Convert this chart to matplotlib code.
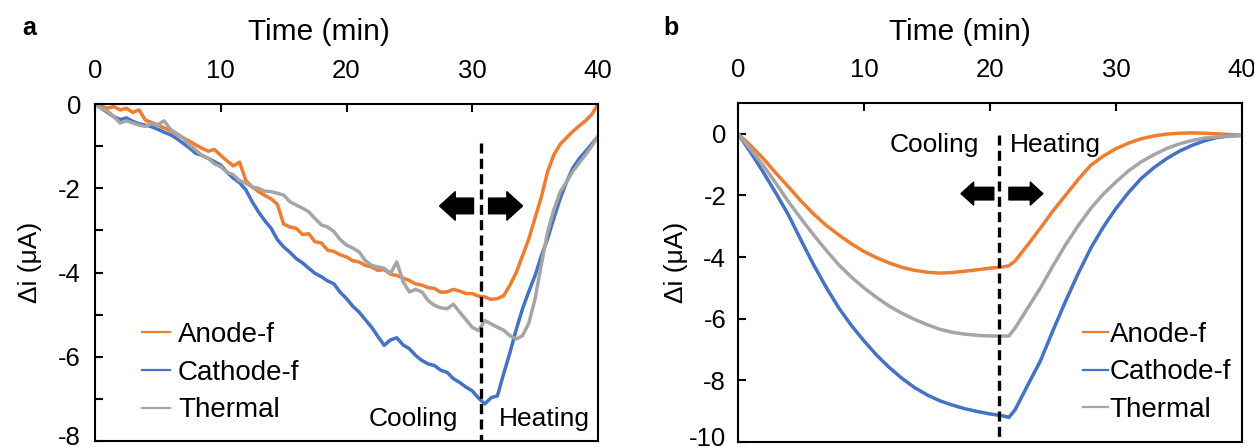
import matplotlib
matplotlib.use("Agg")
import matplotlib.pyplot as plt
from matplotlib.patches import FancyArrowPatch
from matplotlib.lines import Line2D
from matplotlib.transforms import ScaledTranslation

plt.rcParams['font.family'] = ['Liberation Sans', 'DejaVu Sans']

# ---------------- data ----------------
series_names = ["Anode-f", "Cathode-f", "Thermal"]
series_colors = ["#ED7D31", "#4472C4", "#A5A5A5"]

# Panel a (measured, noisy), 0.5-min resolution
time_a = [i * 0.5 for i in range(81)]
anode_a = [0, -0.05, -0.1, -0.06, -0.14, -0.1, -0.2, -0.14, -0.38, -0.44,
           -0.5, -0.57, -0.63, -0.72, -0.8, -0.88, -0.97, -1.05, -1.12, -1.08,
           -1.22, -1.35, -1.47, -1.38, -1.82, -1.97, -2.08, -2.17, -2.25, -2.38,
           -2.85, -2.92, -2.95, -3.1, -3.08, -3.27, -3.3, -3.47, -3.5, -3.58,
           -3.63, -3.72, -3.75, -3.83, -3.87, -3.95, -3.93, -4.04, -4.07, -4.13,
           -4.19, -4.27, -4.3, -4.36, -4.38, -4.47, -4.46, -4.4, -4.44, -4.5,
           -4.5, -4.56, -4.58, -4.64, -4.62, -4.55, -4.3, -4.0, -3.6, -3.2,
           -2.7, -2.2, -1.6, -1.2, -0.95, -0.8, -0.65, -0.52, -0.4, -0.25, 0.0]
cathode_a = [0, -0.1, -0.2, -0.3, -0.37, -0.33, -0.41, -0.47, -0.5, -0.54,
             -0.6, -0.67, -0.73, -0.82, -0.93, -1.04, -1.17, -1.22, -1.29, -1.37,
             -1.45, -1.62, -1.76, -1.87, -2.04, -2.32, -2.56, -2.77, -2.95, -3.22,
             -3.39, -3.52, -3.67, -3.77, -3.9, -4.02, -4.1, -4.2, -4.27, -4.47,
             -4.62, -4.8, -4.94, -5.12, -5.3, -5.52, -5.73, -5.6, -5.55, -5.72,
             -5.81, -5.97, -6.09, -6.17, -6.21, -6.32, -6.37, -6.52, -6.61, -6.72,
             -6.81, -6.98, -7.12, -6.97, -6.93, -6.4, -5.9, -5.35, -4.86, -4.45,
             -4.07, -3.6, -3.19, -2.7, -2.24, -1.85, -1.52, -1.3, -1.13, -0.95, -0.77]
thermal_a = [0, -0.1, -0.17, -0.3, -0.45, -0.4, -0.45, -0.5, -0.53, -0.47,
             -0.49, -0.4, -0.6, -0.7, -0.8, -0.97, -1.09, -1.22, -1.29, -1.42,
             -1.49, -1.62, -1.68, -1.82, -1.88, -1.97, -2.0, -2.07, -2.08, -2.12,
             -2.16, -2.32, -2.4, -2.47, -2.56, -2.72, -2.87, -2.92, -3.03, -3.22,
             -3.35, -3.42, -3.51, -3.72, -3.83, -3.87, -3.9, -4.02, -3.75, -4.22,
             -4.46, -4.4, -4.46, -4.67, -4.78, -4.84, -4.86, -4.75, -4.94, -5.12,
             -5.3, -5.38, -5.14, -5.22, -5.3, -5.37, -5.5, -5.58, -5.5, -5.2,
             -4.62, -3.8, -3.03, -2.5, -2.08, -1.85, -1.6, -1.4, -1.21, -1.0, -0.77]

# Panel b (model, smooth)
time_b = [0, 1, 2, 3, 4, 5, 6, 7, 8, 9, 10, 11, 12, 13, 14, 15, 16, 17, 18, 19,
          20, 21, 21.5, 22, 23, 24, 25, 26, 27, 28, 29, 30, 31, 32, 33, 34, 35,
          36, 37, 38, 39, 40]
anode_b = [0, -0.38, -0.8, -1.27, -1.72, -2.18, -2.6, -2.97, -3.28, -3.57,
           -3.82, -4.02, -4.19, -4.33, -4.43, -4.49, -4.52, -4.5, -4.46, -4.41,
           -4.36, -4.32, -4.28, -4.12, -3.6, -3.06, -2.5, -1.99, -1.48, -1.02,
           -0.72, -0.48, -0.3, -0.16, -0.07, -0.01, 0.02, 0.03, 0.02, 0.0,
           -0.02, -0.05]
cathode_b = [0, -0.6, -1.24, -1.92, -2.63, -3.45, -4.25, -4.98, -5.65, -6.22,
             -6.72, -7.18, -7.58, -7.93, -8.23, -8.47, -8.66, -8.8, -8.92, -9.01,
             -9.09, -9.15, -9.2, -8.95, -8.15, -7.37, -6.38, -5.43, -4.53, -3.71,
             -3.02, -2.42, -1.9, -1.45, -1.1, -0.81, -0.57, -0.38, -0.23, -0.12,
             -0.07, -0.05]
thermal_b = [0, -0.5, -1.02, -1.6, -2.2, -2.75, -3.28, -3.78, -4.25, -4.65,
             -5.0, -5.31, -5.59, -5.82, -6.02, -6.19, -6.34, -6.44, -6.5, -6.54,
             -6.56, -6.56, -6.56, -6.3, -5.65, -5.0, -4.28, -3.6, -2.98, -2.42,
             -1.95, -1.56, -1.2, -0.91, -0.68, -0.48, -0.33, -0.22, -0.14, -0.1,
             -0.07, -0.05]

switch_a = 30.7
switch_b = 20.7

xticks = [0, 10, 20, 30, 40]
yticks_a = [0, -1, -2, -3, -4, -5, -6, -7, -8]
yticklabels_a = ["0", "", "-2", "", "-4", "", "-6", "", "-8"]
yticks_b = [0, -2, -4, -6, -8, -10]
yticklabels_b = ["0", "-2", "-4", "-6", "-8", "-10"]

# ---------------- figure ----------------
fig = plt.figure(figsize=(12.54, 4.47), dpi=100)
ax_a = fig.add_axes([95 / 1254, 1 - 441 / 447, 503 / 1254, 337 / 447])
ax_b = fig.add_axes([738 / 1254, 1 - 442 / 447, 504 / 1254, 339 / 447])

TICK_FS = 18.5
LAB_FS = 19
XLAB_FS = 21.5
LEG_FS = 20


def style_axis(ax, yticks, yticklabels, ylim, ypad):
    ax.set_xlim(0, 40)
    ax.set_ylim(*ylim)
    ax.xaxis.tick_top()
    ax.xaxis.set_label_position('top')
    ax.set_xticks(xticks)
    ax.set_xticklabels([str(t) for t in xticks])
    ax.set_yticks(yticks)
    ax.set_yticklabels(yticklabels)
    ax.tick_params(axis='x', direction='in', length=6, width=1.5,
                   labelsize=TICK_FS, pad=15)
    ax.tick_params(axis='y', direction='in', length=6, width=1.5,
                   labelsize=TICK_FS, pad=ypad)
    for s in ax.spines.values():
        s.set_linewidth(1.5)
        s.set_color('black')
    ax.set_xlabel("Time (min)", fontsize=XLAB_FS)
    ax.set_ylabel("\u0394i (\u03bcA)", fontsize=LAB_FS)
    # the lowest label sits slightly higher, as in the original
    lbl = ax.get_yticklabels()[-1]
    lbl.set_transform(lbl.get_transform() + ScaledTranslation(0, 4 / 72, fig.dpi_scale_trans))


def arrow(ax, x0, x1, y, scale):
    p = FancyArrowPatch((x0, y), (x1, y),
                        arrowstyle="simple,head_length=0.55,head_width=1.0,tail_width=0.55",
                        mutation_scale=scale, color='black', shrinkA=0, shrinkB=0,
                        zorder=5)
    ax.add_patch(p)


# Panel a
for vals, name, col in zip([anode_a, cathode_a, thermal_a], series_names, series_colors):
    ax_a.plot(time_a, vals, color=col, lw=2.5, label=name, solid_joinstyle='round')
style_axis(ax_a, yticks_a, yticklabels_a, (-8, 0), 10)
ax_a.xaxis.set_label_coords(0.445, 1.189)
ax_a.yaxis.set_label_coords(-0.105, 0.53)
ax_a.plot([switch_a, switch_a], [-0.93, -8], color='black', lw=2.4,
          linestyle=(0, (3, 1.6)), zorder=4)
arrow(ax_a, 30.1, 27.4, -2.42, 20.5)
arrow(ax_a, 31.3, 34.0, -2.42, 20.5)
ax_a.text(25.3, -7.48, "Cooling", fontsize=LAB_FS, ha='center', va='center')
ax_a.text(35.7, -7.48, "Heating", fontsize=LAB_FS, ha='center', va='center')
handles_a = [Line2D([], [], color=c, lw=1.6) for c in series_colors]
ax_a.legend(handles_a, series_names, loc='upper left', bbox_to_anchor=(0.093, 0.353),
            frameon=False, fontsize=LEG_FS, handlelength=1.0, handletextpad=0.3,
            labelspacing=0.42, borderaxespad=0, borderpad=0)

# Panel b
for vals, name, col in zip([anode_b, cathode_b, thermal_b], series_names, series_colors):
    ax_b.plot(time_b, vals, color=col, lw=2.5, label=name)
style_axis(ax_b, yticks_b, yticklabels_b, (-10, 1), 8.5)
ax_b.xaxis.set_label_coords(0.44, 1.186)
ax_b.yaxis.set_label_coords(-0.099, 0.53)
ax_b.plot([switch_b, switch_b], [-0.05, -10], color='black', lw=2.4,
          linestyle=(0, (3, 1.6)), zorder=4)
arrow(ax_b, 20.3, 17.7, -1.94, 16.5)
arrow(ax_b, 21.5, 24.2, -1.94, 16.5)
ax_b.text(15.55, -0.35, "Cooling", fontsize=LAB_FS, ha='center', va='center',
          bbox=dict(facecolor='white', edgecolor='none', pad=0), zorder=3)
ax_b.text(25.2, -0.35, "Heating", fontsize=LAB_FS, ha='center', va='center')
handles_b = [Line2D([], [], color=c, lw=1.6) for c in series_colors]
ax_b.legend(handles_b, series_names, loc='upper left', bbox_to_anchor=(0.685, 0.355),
            frameon=False, fontsize=LEG_FS, handlelength=0.9, handletextpad=0.05,
            labelspacing=0.42, borderaxespad=0, borderpad=0)

fig.text(22 / 1254, 1 - 28 / 447, "a", fontsize=18, fontweight='bold', ha='left', va='center')
fig.text(663 / 1254, 1 - 28 / 447, "b", fontsize=18, fontweight='bold', ha='left', va='center')

fig.savefig("out.png", dpi=100)
